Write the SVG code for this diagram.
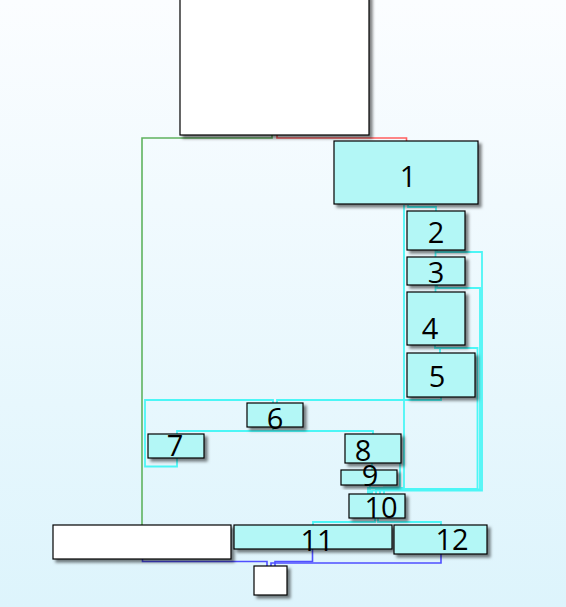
<svg xmlns="http://www.w3.org/2000/svg" width="566" height="607" viewBox="0 0 566 607">
<defs>
<linearGradient id="bg" x1="0" y1="0" x2="0" y2="1">
<stop offset="0" stop-color="#fbfdff"/>
<stop offset="1" stop-color="#ddf4fc"/>
</linearGradient>
<filter id="sh" x="-10%" y="-10%" width="130%" height="140%">
<feDropShadow dx="3" dy="3" stdDeviation="1.5" flood-color="#000" flood-opacity="0.5"/>
</filter>
</defs>
<style>
.n{fill:#b3f7f6;stroke:#000;stroke-width:1.2;filter:url(#sh)}
.w{fill:#fff;stroke:#000;stroke-width:1.2;filter:url(#sh)}
.t{font-family:"Open Sans","DejaVu Sans",sans-serif;font-size:29px;fill:#000;text-anchor:middle}
.c{fill:none;stroke:#4cf6f6;stroke-width:1.8}
.g{fill:none;stroke:#5fb35f;stroke-width:1.6}
.r{fill:none;stroke:#ff5f5f;stroke-width:1.6}
.b{fill:none;stroke:#4f4fff;stroke-width:1.6}
</style>
<rect width="566" height="607" fill="url(#bg)"/>
<g id="connectors">
<path class="g" d="M272,135 V138 H142 V525"/>
<path class="r" d="M277,135 V138 H406.5 V141"/>
<path class="c" d="M404,205 V488 H368 V494"/>
<path class="c" d="M437,250 V252 H482 V490.5 H372 V494"/>
<path class="c" d="M437,285 V288 H480 V489.5 H376 V494"/>
<path class="c" d="M440,348 H477.5 V489 H380 V494"/>
<path class="c" d="M400,463 V487.5 H384 V494"/>
<path class="c" d="M408,205 V207 H436 V211"/>
<path class="c" d="M435.5,250 V257"/>
<path class="c" d="M435.5,285 V292"/>
<path class="c" d="M435,345 V348 H440 V353"/>
<path class="c" d="M441,397 V400 H277 V403"/>
<path class="c" d="M273,403 V400 H145 V466.5 H177 V458"/>
<path class="c" d="M273,427 V431 H177 V434"/>
<path class="c" d="M273,431 H373 V434"/>
<path class="c" d="M372,463 V470"/>
<path class="c" d="M370,485 V494"/>
<path class="c" d="M375,518 V522 H313 V525"/>
<path class="c" d="M378,518 V522 H441 V525"/>
<path class="b" d="M142.5,559 V561.5 H267 V566"/>
<path class="b" d="M312.5,549 V561.5 H275 V566"/>
<path class="b" d="M441,554 V563 H271 V566"/>
</g>
<g id="top"><rect class="w" x="180" y="-5" width="189" height="140"/></g>
<g id="n1"><rect class="n" x="334" y="141" width="144" height="63"/><text class="t" x="408" y="187">1</text></g>
<g id="n2"><rect class="n" x="407" y="211" width="58" height="39"/><text class="t" x="436" y="243">2</text></g>
<g id="n3"><rect class="n" x="407" y="257" width="58" height="28"/><text class="t" x="436" y="283">3</text></g>
<g id="n4"><rect class="n" x="407" y="292" width="58" height="53"/><text class="t" x="430" y="339">4</text></g>
<g id="n5"><rect class="n" x="407" y="353" width="68" height="44"/><text class="t" x="437" y="387">5</text></g>
<g id="n6"><rect class="n" x="247" y="403" width="56" height="24"/><text class="t" x="275" y="429">6</text></g>
<g id="n7"><rect class="n" x="148" y="434" width="56" height="24"/><text class="t" x="175" y="456">7</text></g>
<g id="n8"><rect class="n" x="345" y="434" width="56" height="29"/><text class="t" x="363" y="461">8</text></g>
<g id="n9"><rect class="n" x="341" y="470" width="56" height="15"/><text class="t" x="370" y="486">9</text></g>
<g id="n10"><rect class="n" x="349" y="494" width="56" height="24"/><text class="t" x="381" y="518">10</text></g>
<g id="left"><rect class="w" x="53" y="525" width="178" height="34"/></g>
<g id="n11"><rect class="n" x="234" y="525" width="158" height="24"/><text class="t" x="317" y="551">11</text></g>
<g id="n12"><rect class="n" x="394" y="525" width="93" height="29"/><text class="t" x="452" y="550">12</text></g>
<g id="bottom"><rect class="w" x="254" y="566" width="33" height="29"/></g>
</svg>
